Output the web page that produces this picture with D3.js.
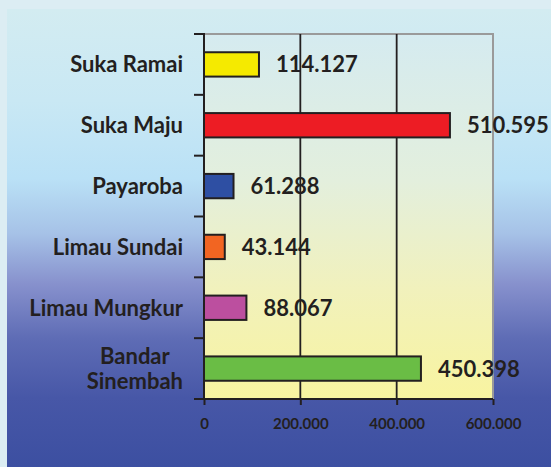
<!DOCTYPE html>
<html lang="en">
<head>
<meta charset="utf-8">
<title>Suka bars</title>
<script src="https://d3js.org/d3.v7.min.js"></script>
<style type="text/css">
  html, body {
    margin: 0;
    padding: 0;
    background: #dcedf3;
    overflow: hidden;
  }
  .chart text {
    font-family: Lato, "Open Sans", sans-serif;
    font-weight: bold;
    fill: #231f20;
  }
</style>
</head>
<body>
<div class="chart" id="chart"></div>
<script>

// data, top to bottom as in the picture
var categories = ["Suka Ramai", "Suka Maju", "Payaroba", "Limau Sundai", "Limau Mungkur", "Bandar Sinembah"];
var values = [114127, 510595, 61288, 43144, 88067, 450398];
var barColors = ["#f5ea00", "#ed1c24", "#2e4fa3", "#f26522", "#bc4f9f", "#6abd45"];
var xTicks = [0, 200000, 400000, 600000];

var width = 551, height = 467;
var plot = {left: 204, right: 493, top: 34, bottom: 399};

var idLocale = d3.formatLocale({decimal: ",", thousands: ".", grouping: [3], currency: ["", ""]});
var fmt = idLocale.format(",d");

var svg = d3.select("#chart").append("svg")
    .attr("width", width)
    .attr("height", height);

var defs = svg.append("defs");

var bgGrad = defs.append("linearGradient")
    .attr("id", "bgGrad")
    .attr("x1", 0).attr("y1", 0).attr("x2", 0).attr("y2", 1);
[["0%", "#d3ecf1"], ["20%", "#c9e8f4"], ["37%", "#bae1f6"], ["49%", "#a6c2e7"],
 ["60%", "#8791cd"], ["72%", "#5e6cb5"], ["85%", "#4757a7"], ["100%", "#3c4fa1"]]
  .forEach(function(s) { bgGrad.append("stop").attr("offset", s[0]).attr("stop-color", s[1]); });

var plotGrad = defs.append("linearGradient")
    .attr("id", "plotGrad")
    .attr("x1", 0).attr("y1", 0).attr("x2", 0).attr("y2", 1);
[["0%", "#d5ebf0"], ["40%", "#e3efdd"], ["70%", "#f1f1bc"], ["100%", "#f8f4a0"]]
  .forEach(function(s) { plotGrad.append("stop").attr("offset", s[0]).attr("stop-color", s[1]); });

// outer chart area
svg.append("rect")
    .attr("x", 7).attr("y", 9)
    .attr("width", width - 7).attr("height", height - 9)
    .attr("fill", "url(#bgGrad)");

var x = d3.scaleLinear()
    .domain([0, 600000])
    .range([plot.left, plot.right]);

var y = d3.scaleBand()
    .domain(categories)
    .range([plot.top, plot.bottom])
    .paddingInner(0.6)
    .paddingOuter(0.3);

// plot area
svg.append("rect")
    .attr("x", plot.left).attr("y", plot.top)
    .attr("width", plot.right - plot.left).attr("height", plot.bottom - plot.top)
    .attr("fill", "url(#plotGrad)");

// gray border top and right
svg.append("path")
    .attr("d", "M" + plot.left + "," + plot.top + "H" + plot.right + "V" + plot.bottom)
    .attr("fill", "none")
    .attr("stroke", "#9a9a9a")
    .attr("stroke-width", 2);

// gridlines
svg.append("g")
  .selectAll("line")
  .data(xTicks.filter(function(d) { return d > 0 && d < 600000; }))
  .enter().append("line")
    .attr("x1", function(d) { return x(d); })
    .attr("x2", function(d) { return x(d); })
    .attr("y1", plot.top)
    .attr("y2", plot.bottom)
    .attr("stroke", "#231f20")
    .attr("stroke-width", 1.8);

// bars
svg.append("g")
  .selectAll("rect")
  .data(values)
  .enter().append("rect")
    .attr("x", x(0))
    .attr("y", function(d, i) { return y(categories[i]); })
    .attr("width", function(d) { return x(d) - x(0); })
    .attr("height", y.bandwidth())
    .attr("fill", function(d, i) { return barColors[i]; })
    .attr("stroke", "#231f20")
    .attr("stroke-width", 2);

// value labels
svg.append("g")
  .selectAll("text")
  .data(values)
  .enter().append("text")
    .attr("x", function(d) { return x(d) + 17; })
    .attr("y", function(d, i) { return y(categories[i]) + y.bandwidth() / 2; })
    .attr("dy", "0.36em")
    .style("font-size", "22px")
    .text(function(d) { return fmt(d); });

// x axis
var xAxis = d3.axisBottom(x)
    .tickValues(xTicks)
    .tickSize(6)
    .tickPadding(13)
    .tickFormat(function(d) { return fmt(d); });

var gx = svg.append("g")
    .attr("transform", "translate(0," + plot.bottom + ")")
    .call(xAxis);
gx.select(".domain").attr("stroke", "#231f20").attr("stroke-width", 2).attr("d", "M" + plot.left + ",0H" + plot.right);
gx.selectAll(".tick line").attr("stroke", "#231f20").attr("stroke-width", 2);
gx.selectAll(".tick text").style("font-size", "15px").attr("fill", "#231f20");

// y axis: ticks on band boundaries
var bounds = d3.range(categories.length + 1).map(function(i) { return plot.top + i * (plot.bottom - plot.top) / categories.length; });
var gy = svg.append("g");
gy.append("line")
    .attr("x1", plot.left).attr("x2", plot.left)
    .attr("y1", plot.top - 1).attr("y2", plot.bottom + 1)
    .attr("stroke", "#231f20").attr("stroke-width", 2);
gy.selectAll("line.tk")
  .data(bounds)
  .enter().append("line")
    .attr("class", "tk")
    .attr("x1", plot.left - 10).attr("x2", plot.left)
    .attr("y1", function(d) { return d; }).attr("y2", function(d) { return d; })
    .attr("stroke", "#231f20").attr("stroke-width", 2);

// category labels, wrapped ones centred in their block
var labelRight = 183;
var lineH = 25;
categories.forEach(function(c) {
  var lines = c === "Bandar Sinembah" ? ["Bandar", "Sinembah"] : [c];
  var cy = y(c) + y.bandwidth() / 2;
  var t = svg.append("text")
      .style("font-size", "22px")
      .attr("text-anchor", lines.length > 1 ? "middle" : "end");
  var spans = t.selectAll("tspan")
    .data(lines)
    .enter().append("tspan")
      .attr("x", 0)
      .attr("y", function(d, i) { return cy + (i - (lines.length - 1) / 2) * lineH; })
      .attr("dy", "0.36em")
      .text(function(d) { return d; });
  if (lines.length > 1) {
    var w = t.node().getBBox().width;
    spans.attr("x", labelRight - w / 2);
  } else {
    spans.attr("x", labelRight);
  }
});

</script>
</body>
</html>
